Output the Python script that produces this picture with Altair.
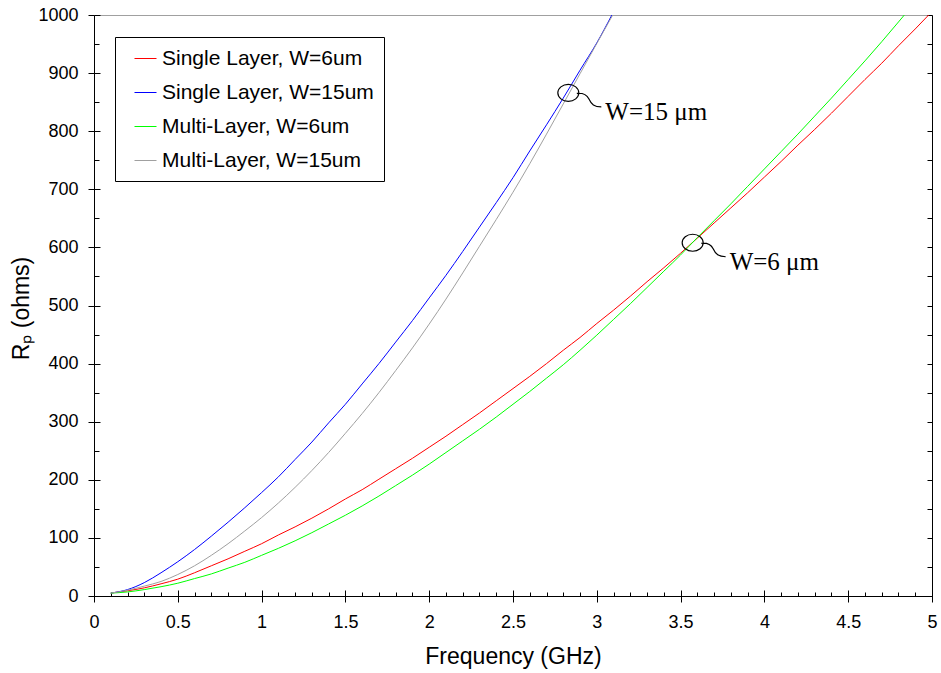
import altair as alt
import pandas as pd

# ---------------- data ----------------
freq_grid = [0.1, 0.2, 0.3, 0.4, 0.5, 0.6, 0.7, 0.8, 0.9, 1.0,
             1.1, 1.2, 1.3, 1.4, 1.5, 1.6, 1.7, 1.8, 1.9, 2.0,
             2.1, 2.2, 2.3, 2.4, 2.5, 2.6, 2.7, 2.8, 2.9, 3.0,
             3.1, 3.2, 3.3, 3.4, 3.5, 3.6, 3.7, 3.8, 3.9, 4.0,
             4.1, 4.2, 4.3, 4.4, 4.5, 4.6, 4.7, 4.8, 4.9]

series_names = ["Single Layer, W=6um", "Single Layer, W=15um",
                "Multi-Layer, W=6um", "Multi-Layer, W=15um"]
series_colors = ["#ff0000", "#0000ff", "#00ff00", "#a0a0a0"]

# frequency where each curve leaves the top of the plot (R = 1000)
end_freq = [4.98, 3.09, 4.835, 3.095]

rp_single_6 = [5, 9, 14, 21, 29, 40, 52, 64, 77, 90,
               105, 119, 134, 150, 167, 183, 201, 219, 237, 256,
               275, 295, 315, 336, 357, 378, 400, 423, 445, 469,
               492, 516, 541, 565, 590, 616, 642, 668, 694, 721,
               748, 776, 803, 831, 860, 889, 917, 947, 976, 1000]
rp_single_15 = [5, 11, 23, 40, 59, 80, 103, 127, 152, 178,
                205, 235, 265, 298, 330, 365, 400, 437, 474, 513,
                552, 593, 635, 677, 720, 766, 811, 857, 905, 952, 1000]
rp_multi_6 = [5, 7, 11, 16, 22, 30, 38, 48, 58, 70,
              82, 95, 109, 124, 139, 155, 172, 190, 208, 227,
              247, 267, 287, 308, 330, 352, 375, 398, 423, 449,
              476, 503, 531, 559, 587, 617, 646, 675, 705, 735,
              765, 795, 826, 857, 889, 921, 954, 988, 1000]
rp_multi_15 = [5, 10, 17, 25, 37, 52, 70, 90, 112, 135,
               160, 187, 216, 247, 280, 314, 350, 388, 427, 468,
               511, 556, 602, 648, 695, 744, 795, 847, 899, 951, 1000]

ann_freq = [2.83, 3.572]
ann_rp = [866, 608]
ann_text = ["W=15 \u03bcm", "W=6 \u03bcm"]

x_major = [0, 0.5, 1, 1.5, 2, 2.5, 3, 3.5, 4, 4.5, 5]
x_minor = [0.1, 0.2, 0.3, 0.4, 0.6, 0.7, 0.8, 0.9, 1.1, 1.2, 1.3, 1.4,
           1.6, 1.7, 1.8, 1.9, 2.1, 2.2, 2.3, 2.4, 2.6, 2.7, 2.8, 2.9,
           3.1, 3.2, 3.3, 3.4, 3.6, 3.7, 3.8, 3.9, 4.1, 4.2, 4.3, 4.4,
           4.6, 4.7, 4.8, 4.9]
y_major = [0, 100, 200, 300, 400, 500, 600, 700, 800, 900, 1000]
y_minor = [50, 150, 250, 350, 450, 550, 650, 750, 850, 950]
y_all = sorted(y_major + y_minor)

# ---------------- tables ----------------
rows = []
for name, vals, fend in zip(series_names,
                            [rp_single_6, rp_single_15, rp_multi_6, rp_multi_15],
                            end_freq):
    fs = freq_grid[:len(vals) - 1] + [fend]
    for f, r in zip(fs, vals):
        rows.append({"series": name, "freq": f, "rp": r})
df = pd.DataFrame(rows)
ann = pd.DataFrame({"freq": ann_freq, "rp": ann_rp, "label": ann_text})

W, H = 838, 581
FONT = "Liberation Sans"

xscale = alt.Scale(domain=[0, 5], nice=False, zero=False)
yscale = alt.Scale(domain=[0, 1000], nice=False, zero=False)

x_main = alt.Axis(values=x_major, format="~g", tickSize=6, tickColor="black",
                  domainColor="black", labelFont=FONT, labelFontSize=18,
                  labelColor="black", labelPadding=11, labelFlush=False,
                  labelOverlap=False, grid=False,
                  title="Frequency (GHz)", titleFont=FONT, titleFontSize=23,
                  titleFontWeight="normal", titleColor="black",
                  titleX=419, titleY=67, titleBaseline="alphabetic")
y_main = alt.Axis(values=y_major, format="d", tickSize=6, tickColor="black",
                  domainColor="black", labelFont=FONT, labelFontSize=18,
                  labelColor="black", labelPadding=10, labelFlush=False,
                  labelOverlap=False, grid=False,
                  title="R\u209a (ohms)", titleFont=FONT, titleFontSize=23,
                  titleFontWeight="normal", titleColor="black",
                  titleX=-66, titleY=293, titleAngle=270,
                  titleBaseline="alphabetic", titleAlign="center")

legend = alt.Legend(title=None, orient="none", legendX=21, legendY=22,
                    strokeColor="black", fillColor="white", padding=10,
                    cornerRadius=0, symbolType="stroke", symbolSize=484,
                    symbolStrokeWidth=1, symbolOffset=9, labelOffset=5,
                    labelFont=FONT, labelFontSize=21, labelColor="black",
                    labelLimit=400, rowPadding=12)

lines = alt.Chart(df).mark_line(strokeWidth=1, interpolate="monotone", clip=True).encode(
    x=alt.X("freq:Q", scale=xscale, axis=x_main),
    y=alt.Y("rp:Q", scale=yscale, axis=y_main),
    color=alt.Color("series:N", sort=series_names,
                    scale=alt.Scale(domain=series_names, range=series_colors),
                    legend=legend),
)


def axis_layer(x_axis, y_axis):
    return alt.Chart(df).mark_point(opacity=0).encode(
        x=alt.X("freq:Q", scale=xscale, axis=x_axis),
        y=alt.Y("rp:Q", scale=yscale, axis=y_axis),
    )


def tick_axis(orient, offset, values, size, domain=False):
    return alt.Axis(orient=orient, offset=offset, values=values, tickSize=size,
                    tickColor="black", labels=False, domain=domain,
                    domainColor="black", grid=False, title=None)


x_in_major = axis_layer(tick_axis("top", -H, x_major, 6), None)
x_in_minor = axis_layer(tick_axis("top", -H, x_minor, 4), None)
y_in_major = axis_layer(None, tick_axis("right", -W, y_major, 6))
y_in_minor = axis_layer(None, tick_axis("right", -W, y_minor, 5))
y_right = axis_layer(None, tick_axis("left", -W, y_all, 5, domain=True))

ellipse_path = ("M -10.5 0 A 10.5 8.5 0 1 1 10.5 0 A 10.5 8.5 0 1 1 -10.5 0 "
                "M 8.5 0.5 C 14 0 18 1 20.5 6 C 23 11.5 26 14 33 14")

marker = alt.Chart(ann).mark_point(shape=ellipse_path, size=4, filled=False,
                                   stroke="black", strokeWidth=1.2, opacity=1).encode(
    x=alt.X("freq:Q", scale=xscale, axis=None),
    y=alt.Y("rp:Q", scale=yscale, axis=None),
)
labels = alt.Chart(ann).mark_text(align="left", baseline="alphabetic", dx=37, dy=27,
                                  font="Liberation Serif", fontSize=25,
                                  color="black").encode(
    x=alt.X("freq:Q", scale=xscale, axis=None),
    y=alt.Y("rp:Q", scale=yscale, axis=None),
    text="label:N",
)

chart = alt.layer(lines, x_in_major, x_in_minor, y_in_major, y_in_minor, y_right,
                  marker, labels).resolve_axis(
    x="independent", y="independent"
).properties(
    width=W, height=H,
    autosize=alt.AutoSizeParams(type="none"),
    padding={"left": 94, "top": 15, "right": 9, "bottom": 77},
    background="white",
).configure_view(stroke="#a0a0a0", strokeWidth=1)

chart.save("out.html", embed_options={"renderer": "svg", "actions": False})
